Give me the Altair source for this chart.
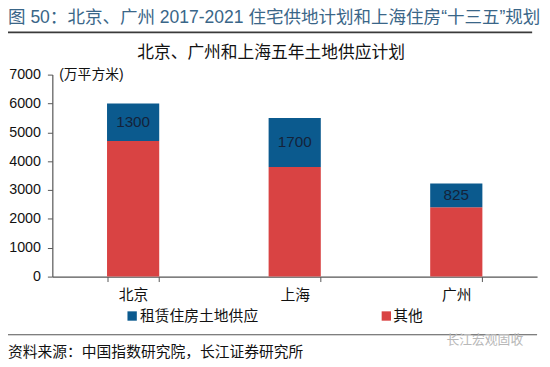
import altair as alt
import pandas as pd

cities = ["北京", "上海", "广州"]
rental = [1300, 1700, 825]
other = [4700, 3800, 2400]
series_names = ["租赁住房土地供应", "其他"]
series_colors = ["#0B5A8E", "#D94343"]
y_ticks = [0, 1000, 2000, 3000, 4000, 5000, 6000, 7000]

fig_title = "图 50：北京、广州 2017-2021 住宅供地计划和上海住房“十三五”规划"
chart_title = "北京、广州和上海五年土地供应计划"
unit_text = "(万平方米)"
source_text = "资料来源：中国指数研究院，长江证券研究所"
watermark = "长江宏观固收"

FONT = "Liberation Sans, Noto Sans CJK SC"

rows = []
for c, r, o in zip(cities, rental, other):
    rows.append({"city": c, "series": series_names[1], "value": o, "ord": 0})
    rows.append({"city": c, "series": series_names[0], "value": r, "ord": 1})
df = pd.DataFrame(rows)

W, H = 492, 205

base = alt.Chart(df).transform_stack(
    stack="value", groupby=["city"], as_=["y0", "y1"], sort=[alt.SortField("ord")]
).transform_calculate(mid="(datum.y0 + datum.y1) / 2")

xscale = alt.Scale(paddingInner=0.677, paddingOuter=0.3385)
yscale = alt.Scale(domain=[0, 7000], nice=False)
xaxis = alt.Axis(labelAngle=0, labelFontSize=15, labelColor="#111", labelFont=FONT,
                 tickBand="extent", tickSize=5, tickColor="#555", domainColor="#555",
                 labelPadding=6, domainWidth=1.2)
yaxis = alt.Axis(values=y_ticks, format="d", labelOverlap=False, grid=False,
                 labelFontSize=14.5, labelColor="#111",
                 labelFont=FONT, tickSize=5, tickColor="#555", domainColor="#555",
                 labelPadding=7, domainWidth=1.2)

bars = base.mark_bar().encode(
    x=alt.X("city:N", sort=cities, title=None, scale=xscale, axis=xaxis),
    y=alt.Y("y1:Q", title=None, scale=yscale, axis=yaxis),
    y2="y0:Q",
    color=alt.Color("series:N", scale=alt.Scale(domain=series_names, range=series_colors), legend=None),
)

labels = base.transform_filter(alt.datum.series == series_names[0]).mark_text(
    fontSize=15.5, font=FONT, color="#14233A"
).encode(
    x=alt.X("city:N", sort=cities, title=None, scale=xscale, axis=xaxis),
    y=alt.Y("mid:Q", title=None, scale=yscale, axis=yaxis),
    text=alt.Text("value:Q"),
)


def txt(s, x, y, size, color="#111", align="left", weight="normal"):
    return alt.Chart(pd.DataFrame({"t": [s]})).mark_text(
        align=align, baseline="middle", fontSize=size, font=FONT, color=color, fontWeight=weight
    ).encode(x=alt.value(x), y=alt.value(y), text="t:N")


def rule(x1, x2, y, color="#444", w=1.5):
    return alt.Chart(pd.DataFrame({"a": [0]})).mark_rule(color=color, strokeWidth=w).encode(
        x=alt.value(x1), x2=alt.value(x2), y=alt.value(y)
    )


def square(x, y, color):
    return alt.Chart(pd.DataFrame({"a": [0]})).mark_square(size=90, color=color, opacity=1).encode(
        x=alt.value(x), y=alt.value(y)
    )


layers = [
    bars, labels,
    txt(fig_title, -45, -57, 17.8, color="#3A6688"),
    rule(-45, 487, -43, color="#3a3a3a", w=1.8),
    txt(chart_title, 222, -22, 17, align="center"),
    txt(unit_text, 7, 0, 14),
    square(81, 245, series_colors[0]),
    txt(series_names[0], 89, 245, 15),
    square(339, 245, series_colors[1]),
    txt(series_names[1], 346, 245, 15),
    rule(-45, 492, 264, color="#555", w=1.2),
    txt(source_text, -45, 282, 15),
    txt(watermark, 400, 269, 13, color="#b8b8b8"),
]

chart = alt.layer(*layers).properties(
    width=W, height=H,
    autosize=alt.AutoSizeParams(type="none"),
    padding={"left": 45, "top": 65, "right": 5, "bottom": 81},
).configure_view(stroke=None)

chart.save("out.html", embed_options={"renderer": "svg", "actions": False})
